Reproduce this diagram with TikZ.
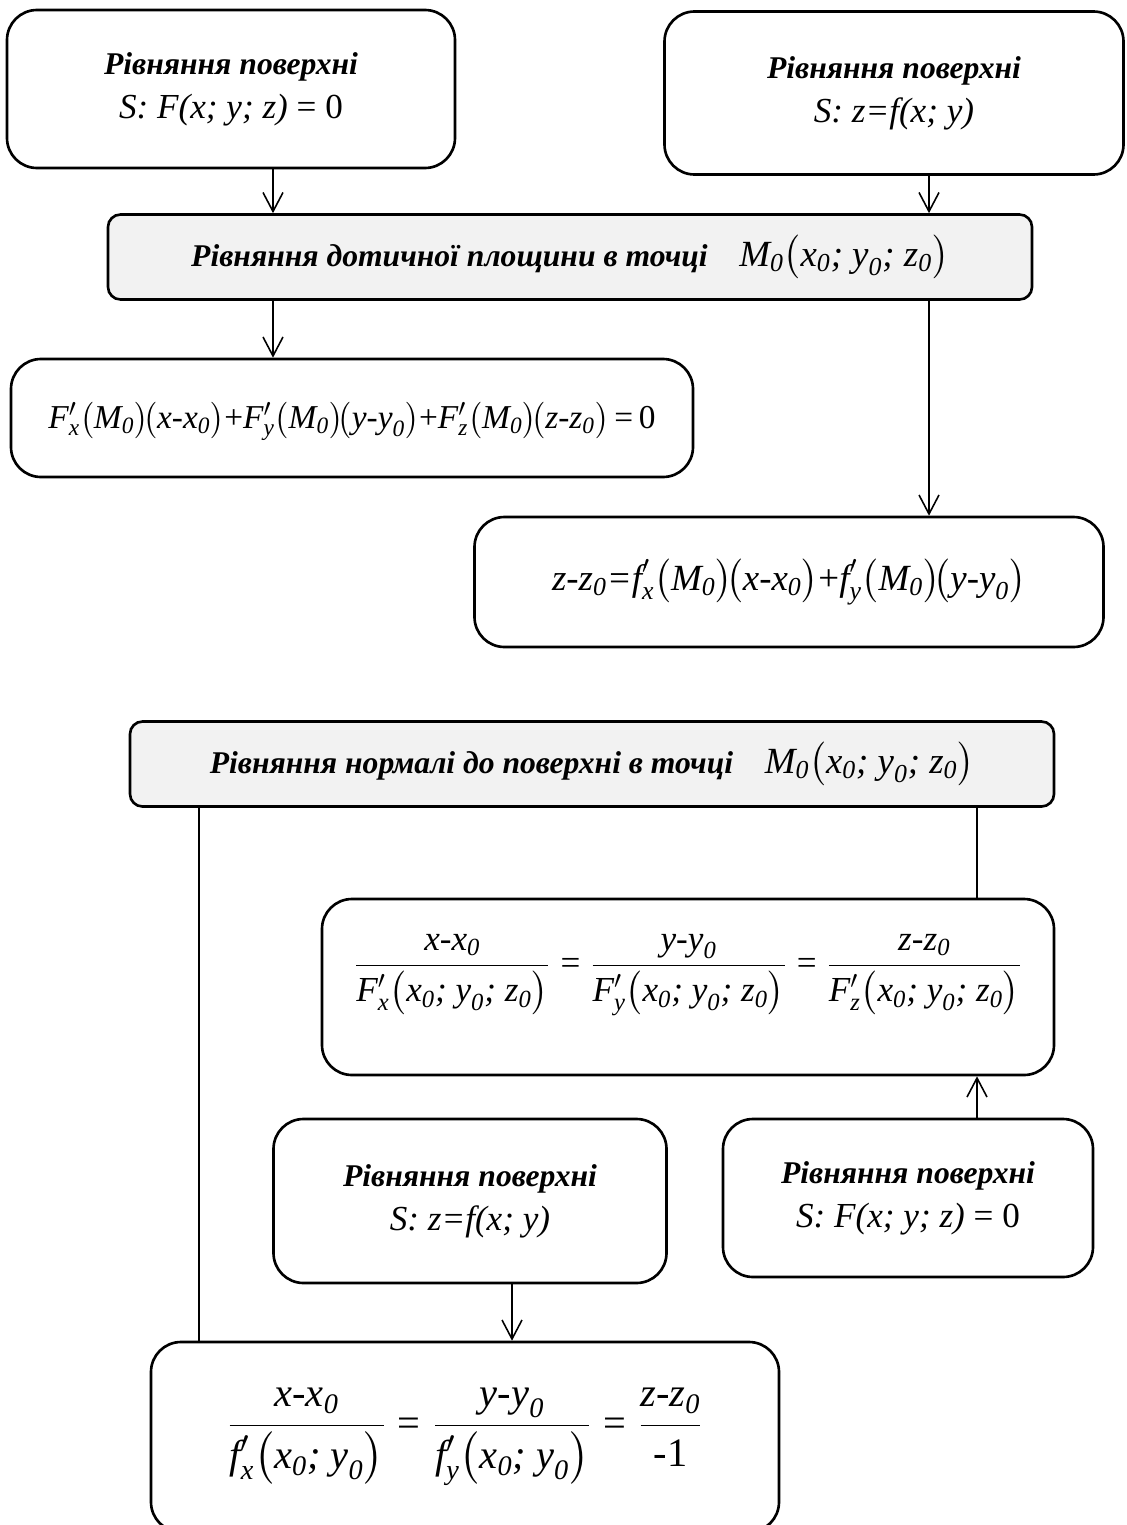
\documentclass[tikz,border=0pt]{standalone}
\usepackage{amsmath}
\usepackage{fontspec}
\setmainfont{Liberation Serif}
\usetikzlibrary{arrows.meta}

\newcommand{\nul}[1]{\textit{#1}_{\textit{0}}}
\newcommand{\dd}[2]{\textit{#1}'_{\textit{#2}}}
\newcommand{\bp}[1]{\bigl(#1\bigr)}
\newcommand{\eq}{\mathrel{\text{=}}}
\newcommand{\lift}[2]{\raisebox{#1}[\height][\depth]{#2}}
\newcommand{\lbl}{\fontsize{18}{25}\selectfont}
\newcommand{\eqn}{\fontsize{20}{25}\selectfont}

\tikzset{
  blk/.style={draw, line width=1.5pt, rounded corners=0.6cm, inner sep=0pt, align=center},
  head/.style={blk, fill=gray!10, rounded corners=0.25cm},
  dims/.style 2 args={minimum width=#1*0.02cm, minimum height=#2*0.02cm},
  con/.style={line width=0.9pt},
  arr/.style={con, -{Straight Barb[length=0.38cm, width=0.4cm]}},
}

\begin{document}
\begin{tikzpicture}[x=0.02cm, y=-0.02cm]
  \useasboundingbox (0,0) rectangle (1126,1525);
  % дотична площина
  \node[blk, dims={448}{158}, font=\lbl] (surfF) at (231,89)
    {\textbf{\textit{Рівняння поверхні}}\\ {\eqn\textit{S: F(x; y; z)} = 0}};
  \node[blk, dims={459}{163}, font=\lbl] (surff) at (894,93)
    {\textbf{\textit{Рівняння поверхні}}\\ {\eqn\textit{S: z=f(x; y)}}};
  \node[head, dims={924}{85}, font=\lbl] (tanplane) at (570,257)
    {\textbf{\textit{Рівняння дотичної площини в точці}}\quad
     {\fontsize{21}{26}\selectfont$\nul{M}\bp{\nul{x}\textit{; }\nul{y}\textit{; }\nul{z}}$}};
  \node[blk, dims={682}{118}, font=\fontsize{19}{22}\selectfont] (tanF) at (352,418)
    {\lift{-2pt}{$\dd{F}{x}\bp{\nul{M}}\!\bp{\textit{x-}\nul{x}}\text{+}\dd{F}{y}\bp{\nul{M}}\!\bp{\textit{y-}\nul{y}}\text{+}\dd{F}{z}\bp{\nul{M}}\!\bp{\textit{z-}\nul{z}}\text{\,=\,0}$}};
  \node[blk, dims={629}{130}, font=\fontsize{21}{25}\selectfont] (tanf) at (789,582)
    {$\textit{z-}\nul{z}\textit{=}\dd{f}{x}\bp{\nul{M}}\!\bp{\textit{x-}\nul{x}}\text{+}\dd{f}{y}\bp{\nul{M}}\!\bp{\textit{y-}\nul{y}}$};

  % нормаль
  \node[head, dims={924}{85}, font=\lbl] (normal) at (592,764)
    {\textbf{\textit{Рівняння нормалі до поверхні в точці}}\quad
     {\fontsize{21}{26}\selectfont$\nul{M}\bp{\nul{x}\textit{; }\nul{y}\textit{; }\nul{z}}$}};
  \node[blk, dims={732}{176}, font=\fontsize{20}{30}\selectfont] (normF) at (688,987)
    {\lift{0.24cm}{$\dfrac{\textit{x-}\nul{x}}{\dd{F}{x}\bp{\nul{x}\textit{; }\nul{y}\textit{; }\nul{z}}}
      \eq\dfrac{\textit{y-}\nul{y}}{\dd{F}{y}\bp{\nul{x}\textit{; }\nul{y}\textit{; }\nul{z}}}
      \eq\dfrac{\textit{z-}\nul{z}}{\dd{F}{z}\bp{\nul{x}\textit{; }\nul{y}\textit{; }\nul{z}}}$}};
  \node[blk, dims={393}{164}, font=\lbl] (surff2) at (470,1201)
    {\textbf{\textit{Рівняння поверхні}}\\ {\eqn\textit{S: z=f(x; y)}}};
  \node[blk, dims={370}{158}, font=\lbl] (surfF2) at (908,1198)
    {\textbf{\textit{Рівняння поверхні}}\\ {\eqn\textit{S: F(x; y; z)} = 0}};
  \node[blk, dims={628}{190}, font=\fontsize{23}{33}\selectfont] (normf) at (465,1437)
    {$\dfrac{\textit{x-}\nul{x}}{\dd{f}{x}\bp{\nul{x}\textit{; }\nul{y}}}
      \eq\dfrac{\textit{y-}\nul{y}}{\dd{f}{y}\bp{\nul{x}\textit{; }\nul{y}}}
      \eq\dfrac{\textit{z-}\nul{z}}{\text{-1}}$};

  % з'єднання
  \coordinate (colA) at (273,0);
  \coordinate (colB) at (929,0);
  \coordinate (colC) at (199,0);
  \coordinate (colD) at (977,0);
  \coordinate (colE) at (512,0);
  \draw[arr] (surfF.south -| colA) -- (tanplane.north -| colA);
  \draw[arr] (surff.south -| colB) -- (tanplane.north -| colB);
  \draw[arr] (tanplane.south -| colA) -- (tanF.north -| colA);
  \draw[arr] (tanplane.south -| colB) -- (tanf.north -| colB);
  \draw[con] (normal.south -| colC) -- (normf.north -| colC);
  \draw[con] (normal.south -| colD) -- (normF.north -| colD);
  \draw[arr] (surfF2.north -| colD) -- (normF.south -| colD);
  \draw[arr] (surff2.south -| colE) -- (normf.north -| colE);
\end{tikzpicture}
\end{document}
